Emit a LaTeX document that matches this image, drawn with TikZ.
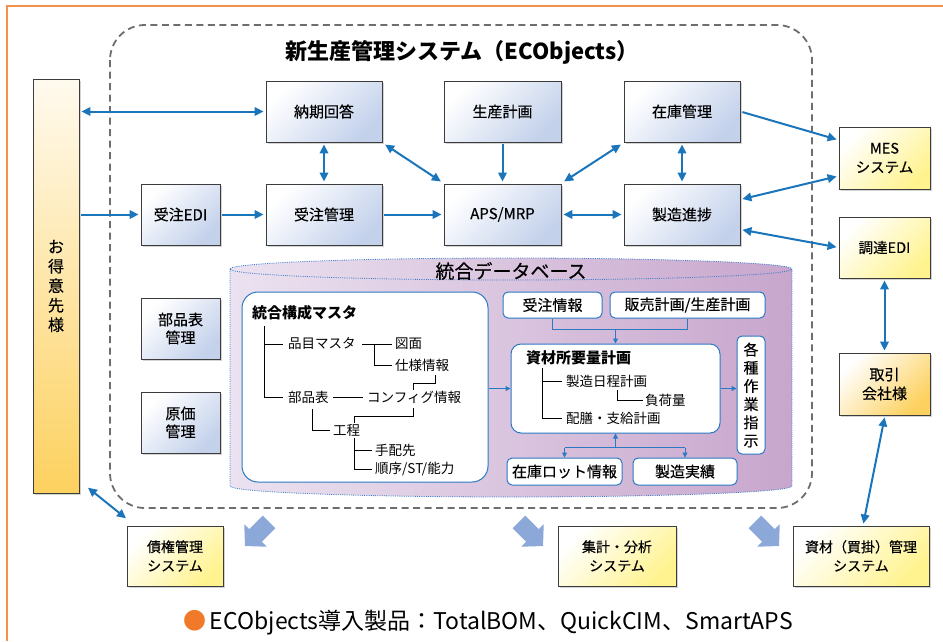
\documentclass[tikz,border=0pt]{standalone}
\usepackage{fontspec}
\setmainfont{Noto Sans CJK JP}
\newfontfamily\jpm[FakeBold=0.35]{Noto Sans CJK JP}
\usetikzlibrary{arrows.meta,shadows,calc}
\definecolor{boxblue}{HTML}{C3D1EB}
\definecolor{boxborder}{HTML}{3C3C3C}
\definecolor{arrblue}{HTML}{1B75BB}
\definecolor{ylw}{HTML}{FFF38F}
\definecolor{orng}{HTML}{FDD15F}
\definecolor{cylL}{HTML}{EBE2F0}
\definecolor{cylR}{HTML}{C8A6CD}
\definecolor{dotblue}{HTML}{3D7DC9}
\definecolor{iblue}{HTML}{2B79C2}
\definecolor{fatblue}{HTML}{8CA8D9}
\definecolor{framecol}{HTML}{F5914B}
\definecolor{dashgray}{HTML}{6E6E6E}
\definecolor{dotorange}{HTML}{F07A2A}
\begin{document}
\begin{tikzpicture}[x=1pt,y=-1pt,
  box/.style={draw=boxborder, line width=0.9pt, inner sep=0pt, align=center,
    drop shadow={shadow xshift=1.6pt, shadow yshift=-1.6pt, opacity=0.35}},
  bluebox/.style={box, top color=white, middle color=boxblue!85!white, bottom color=boxblue, shading angle=45,
    font=\jpm\fontsize{15}{18}\selectfont},
  ylwbox/.style={box, top color=white, middle color=ylw!85!white, bottom color=ylw, shading angle=45,
    font=\jpm\fontsize{14.5}{19}\selectfont},
  orbox/.style={box, top color=white, middle color=orng!85!white, bottom color=orng, shading angle=45,
    font=\jpm\fontsize{15}{19}\selectfont},
  ibox/.style={draw=iblue, fill=white, line width=1pt, rounded corners=5pt, inner sep=0pt,
    font=\jpm\fontsize{15}{18}\selectfont, align=center},
  arr/.style={draw=arrblue, line width=2pt, -{Triangle[length=9pt,width=8.5pt]}, shorten >=2pt, shorten <=2pt},
  darr/.style={arr, {Triangle[length=9pt,width=8.5pt]}-{Triangle[length=9pt,width=8.5pt]}},
  iarr/.style={draw=iblue, line width=1pt, -{Triangle[length=5pt,width=5pt]}},
  iline/.style={draw=iblue, line width=1pt},
  tree/.style={draw=black, line width=0.8pt},
  lbl/.style={anchor=west, inner sep=0pt, font=\fontsize{13.5}{16}\selectfont},
  fat/.style={fill=fatblue}
]
\useasboundingbox (0,0) rectangle (943,641);
% outer frame
\draw[framecol, line width=2pt] (7,641) -- (7,6) -- (943,6);
% dashed system frame
\draw[dashgray, line width=1.8pt, dash pattern=on 7pt off 4.5pt, rounded corners=35pt] (110,25) rectangle (812,508);
\node[font=\bfseries\fontsize{22}{24}\selectfont, inner sep=0pt] (title) at (462,52) {新生産管理システム（ECObjects）};

% database cylinder
\shade[left color=cylL, right color=cylR]
  (230,269) -- (230,486) .. controls (230,492.08) and (355.8,497) .. (511,497)
  .. controls (666.2,497) and (792,492.08) .. (792,486) -- (792,269)
  .. controls (792,262.92) and (666.2,258) .. (511,258)
  .. controls (355.8,258) and (230,262.92) .. (230,269) -- cycle;
\draw[dotblue, line width=0.8pt, dash pattern=on 1pt off 1.2pt]
  (230,269) -- (230,486) .. controls (230,492.08) and (355.8,497) .. (511,497)
  .. controls (666.2,497) and (792,492.08) .. (792,486) -- (792,269)
  .. controls (792,262.92) and (666.2,258) .. (511,258)
  .. controls (355.8,258) and (230,262.92) .. (230,269)
  .. controls (230,275.08) and (355.8,280) .. (511,280)
  .. controls (666.2,280) and (792,275.08) .. (792,269);
\node[font=\jpm\fontsize{19}{20}\selectfont, inner sep=0pt] (dbtitle) at (511,271) {統合データベース};

% main blue boxes
\node[bluebox, minimum width=116pt, minimum height=61pt] (nouki) at (324,111.5) {納期回答};
\node[bluebox, minimum width=117pt, minimum height=61pt] (seisan) at (502.5,111.5) {生産計画};
\node[bluebox, minimum width=116pt, minimum height=61pt] (zaiko) at (682,111.5) {在庫管理};
\node[bluebox, minimum width=79pt, minimum height=61pt] (juedi) at (180.5,214.5) {受注EDI};
\node[bluebox, minimum width=116pt, minimum height=61pt] (jukan) at (324,214.5) {受注管理};
\node[bluebox, minimum width=117pt, minimum height=61pt] (aps) at (502.5,214.5) {APS/MRP};
\node[bluebox, minimum width=116pt, minimum height=61pt] (seizo) at (682,214.5) {製造進捗};
\node[bluebox, minimum width=79pt, minimum height=61pt] (buhin) at (180.5,328.5) {部品表\\管理};
\node[bluebox, minimum width=79pt, minimum height=61pt] (genka) at (180.5,422.5) {原価\\管理};

% outside boxes
\node[box, top color=orng!10!white, middle color=orng!80!white, bottom color=orng, minimum width=46pt, minimum height=414pt,
  font=\jpm\fontsize{16}{19.5}\selectfont] (tokui) at (56,286) {お\\得\\意\\先\\様};
\node[ylwbox, minimum width=91pt, minimum height=62pt] (mes) at (884.5,158) {MES\\システム};
\node[ylwbox, minimum width=91pt, minimum height=61pt] (chotatsu) at (884.5,247.5) {調達EDI};
\node[orbox, minimum width=91pt, minimum height=62pt] (torihiki) at (884.5,384) {取引\\会社様};
\node[ylwbox, minimum width=96pt, minimum height=60pt, font=\jpm\fontsize{14}{19}\selectfont] (saiken) at (175,556) {債権管理\\システム};
\node[ylwbox, minimum width=118pt, minimum height=60pt, font=\jpm\fontsize{14}{19}\selectfont] (shukei) at (617,556) {集計・分析\\システム};
\node[ylwbox, minimum width=136pt, minimum height=60pt, font=\jpm\fontsize{14}{19}\selectfont] (shizai) at (861,556) {資材（買掛）管理\\システム};

% inner database boxes
\node[ibox, rounded corners=16pt, minimum width=246pt, minimum height=190pt] (master) at (365,387) {};
\node[ibox, minimum width=99pt, minimum height=26pt] (juchu) at (552.5,305) {受注情報};
\node[ibox, minimum width=155pt, minimum height=26pt] (hanbai) at (687.5,305) {販売計画/生産計画};
\node[ibox, rounded corners=10pt, minimum width=209pt, minimum height=89pt] (mrp) at (615.5,388.5) {};
\node[ibox, minimum width=28pt, minimum height=118pt, font=\jpm\fontsize{15}{18.2}\selectfont] (kakushu) at (751,395) {各\\種\\作\\業\\指\\示};
\node[ibox, minimum width=115pt, minimum height=27pt] (zlot) at (564.5,471.5) {在庫ロット情報};
\node[ibox, minimum width=104pt, minimum height=27pt] (jisseki) at (685,471.5) {製造実績};

% master tree
\node[lbl, font=\bfseries\fontsize{15}{18}\selectfont] (mtitle) at (252,313) {統合構成マスタ};
\node[lbl] (hinmoku) at (288,344) {品目マスタ};
\node[lbl] (zumen) at (395,344) {図面};
\node[lbl] (shiyo) at (395,365) {仕様情報};
\node[lbl] (buhinhyo) at (288,397) {部品表};
\node[lbl] (config) at (367,397) {コンフィグ情報};
\node[lbl] (kotei) at (333,430) {工程};
\node[lbl] (tehai) at (375,450) {手配先};
\node[lbl] (junjo) at (375,469) {順序/ST/能力};
\draw[tree] (264,326) -- (264,397);
\draw[tree] (264,344) -- (283,344);
\draw[tree] (264,397) -- (283,397);
\draw[tree] (362,344) -- (392,344);
\draw[tree] (374,344) |- (392,365);
\draw[tree] (333,397) -- (363,397);
\draw[tree] (435,375) |- (413,383) -- (413,390);
\draw[tree] (413,408) |- (354,416) -- (354,423);
\draw[tree] (312,409) |- (330,430);
\draw[tree] (354,438) -- (354,469) -- (372,469);
\draw[tree] (354,450) -- (372,450);

% mrp tree
\node[lbl, font=\bfseries\fontsize{15}{18}\selectfont] (mrptitle) at (526,358) {資材所要量計画};
\node[lbl] (nittei) at (566,381) {製造日程計画};
\node[lbl] (fuka) at (645,400) {負荷量};
\node[lbl] (haizen) at (566,418) {配膳・支給計画};
\draw[tree] (542,368) -- (542,418) -- (562,418);
\draw[tree] (542,381) -- (562,381);
\draw[tree] (617,390) |- (643,400);

% inner connectors
\coordinate (jm) at ($(juchu.south)+(0,11)$);
\draw[iline] (juchu.south) |- (hanbai.south |- jm) -- (hanbai.south);
\draw[iarr] (mrp.north |- jm) -- (mrp.north);
\draw[iarr] (master.east |- mrp.west) -- (mrp.west);
\draw[iarr] (mrp.east) -- (kakushu.west |- mrp.east);
\coordinate (sm) at ($(mrp.south)+(0,14)$);
\draw[iarr] (sm) -- (mrp.south);
\draw[iline] (zlot.north |- sm) -- (jisseki.north |- sm);
\draw[iarr] (zlot.north |- sm) -- (zlot.north);
\draw[iarr] (jisseki.north |- sm) -- (jisseki.north);

% main connectors
\draw[darr] (tokui.east |- nouki.west) -- (nouki.west);
\draw[arr] (tokui.east |- juedi.west) -- (juedi.west);
\draw[arr] (juedi) -- (jukan);
\draw[arr] (jukan) -- (aps);
\draw[darr] (nouki) -- (jukan);
\draw[darr] ([shift={(1,1)}]nouki.south east) -- ([shift={(-1,-1)}]aps.north west);
\draw[arr] (seisan) -- (aps);
\draw[darr] ([shift={(1,-1)}]aps.north east) -- ([shift={(-1,1)}]zaiko.south west);
\draw[darr] (aps) -- (seizo);
\draw[darr] (zaiko) -- (seizo);
\draw[arr] (zaiko.east) -- ($(mes.west)+(0,-18)$);
\draw[darr] ($(seizo.east)+(0,-15)$) -- ($(mes.west)+(0,18)$);
\draw[darr] ($(seizo.east)+(0,15)$) -- (chotatsu.west);
\draw[darr] (chotatsu) -- (torihiki);
\draw[darr] ($(torihiki.south)+(0.5,0)$) -- ($(shizai.north)+(2,0)$);
\draw[darr] ($(tokui.south east)+(7,-7)$) -- ($(saiken.north west)+(1,-6)$);

% fat arrows
\fill[fat, shift={(257,534)}, rotate=-135] (-17,-9) -- (2,-9) -- (2,-16) -- (17,0) -- (2,16) -- (2,9) -- (-17,9) -- cycle;
\fill[fat, shift={(531,534)}, rotate=-45] (-17,-9) -- (2,-9) -- (2,-16) -- (17,0) -- (2,16) -- (2,9) -- (-17,9) -- cycle;
\fill[fat, shift={(767,534)}, rotate=-45] (-17,-9) -- (2,-9) -- (2,-16) -- (17,0) -- (2,16) -- (2,9) -- (-17,9) -- cycle;

% footer
\node[font=\fontsize{23}{25}\selectfont, inner sep=0pt] (footer) at (488,623) {{\color{dotorange}●}\,ECObjects導入製品：TotalBOM、QuickCIM、SmartAPS};
\end{tikzpicture}
\end{document}
